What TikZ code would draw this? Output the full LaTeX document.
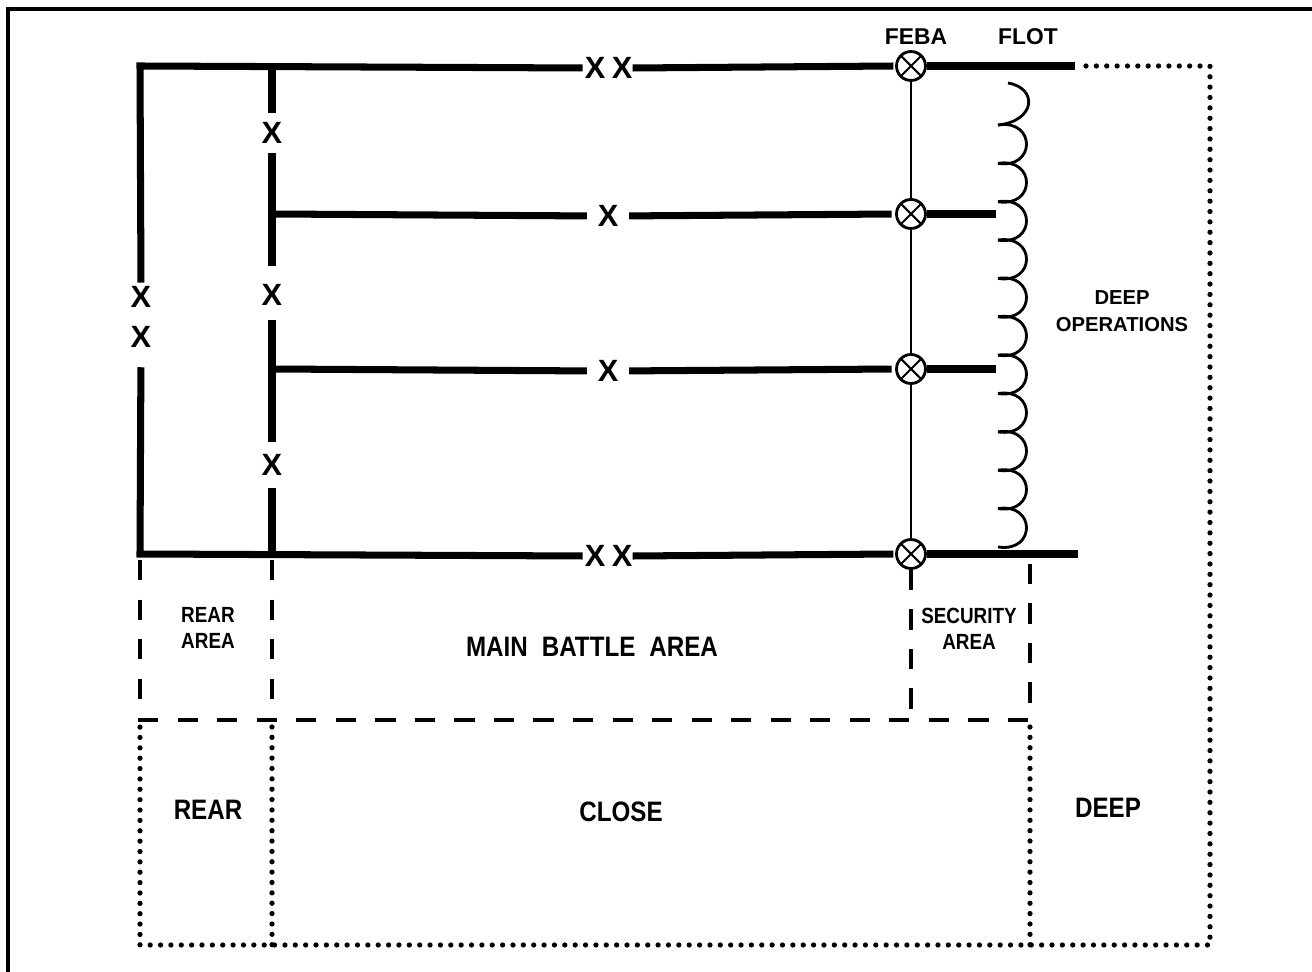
\documentclass[tikz,border=0pt]{standalone}
\usepackage{fontspec}
\setmainfont{Liberation Sans}
\newfontfamily\narrowsans{Liberation Sans}[FakeStretch=0.86]
\usetikzlibrary{calc}

\begin{document}
\begin{tikzpicture}[
  x=0.02cm, y=-0.02cm,
  boundary/.style={line width=4pt},
  febaline/.style={line width=1.1pt},
  flotline/.style={line width=1.6pt},
  zoneline/.style={line width=2pt, dash pattern=on 11.5pt off 11pt},
  sectorline/.style={line width=3pt, line cap=round, dash pattern=on 0pt off 5.9pt},
  xmark/.style={font=\fontsize{17.5}{17.5}\selectfont\bfseries, inner sep=0pt},
  febamark/.style={circle, draw, line width=1.6pt, minimum size=16.5pt, inner sep=0pt,
    path picture={
      \draw[line width=1.2pt] (path picture bounding box.north west) -- (path picture bounding box.south east)
                              (path picture bounding box.north east) -- (path picture bounding box.south west);}},
  linelabel/.style={font=\fontsize{13}{15}\selectfont\bfseries, align=center, inner sep=0pt},
  arealabel/.style={font=\narrowsans\fontsize{12.5}{14.8}\selectfont\bfseries, align=center, inner sep=0pt},
  ziplabel/.style={font=\narrowsans\fontsize{16}{18}\selectfont\bfseries, inner sep=0pt}
]
\useasboundingbox (0,0) rectangle (1312,972);
\draw[line width=2pt] (8,972) -- (8,9) -- (1312,9);

% corners of the sector
\coordinate (nw) at (140,66);
\coordinate (sw) at (140,554);
\coordinate (bn) at (272,66);
\coordinate (bs) at (272,554);
\coordinate (b2) at (272,214);
\coordinate (b3) at (272,369);
\coordinate (flotn) at (1075,66);
\coordinate (flots) at (1078,554);
\coordinate (fwd2) at (996,214);
\coordinate (fwd3) at (996,369);

% FEBA trace
\node[febamark] (f1) at (911,66) {};
\node[febamark] (f2) at (911,214) {};
\node[febamark] (f3) at (911,369) {};
\node[febamark] (f4) at (911,554) {};

% boundary symbols
\node[xmark] (xl1) at (141,297) {X};
\node[xmark] (xl2) at (141,337) {X};
\node[xmark] (xb1) at (272,133) {X};
\node[xmark] (xb2) at (272,295) {X};
\node[xmark] (xb3) at (272,465) {X};
\node[xmark] (xt1) at (595,68) {X};
\node[xmark] (xt2) at (622,68) {X};
\node[xmark] (xm2) at (608,216) {X};
\node[xmark] (xm3) at (608,371) {X};
\node[xmark] (xs1) at (595,556) {X};
\node[xmark] (xs2) at (622,556) {X};

% division boundaries
\draw[boundary, shorten <=2pt, shorten >=1pt] (xl1.north) -- (nw) -- (xt1.west);
\draw[boundary, shorten >=1pt] (xt2.east) -- (f1.west);
\draw[boundary] (f1.east) -- (flotn);
\draw[boundary, shorten <=11pt, shorten >=1pt] (xl2.south) -- (sw) -- (xs1.west);
\draw[boundary, shorten >=1pt] (xs2.east) -- (f4.west);
\draw[boundary] (f4.east) -- (flots);

% brigade boundaries
\draw[boundary, shorten >=5pt] (bn) -- (xb1.north);
\draw[boundary, shorten <=5pt, shorten >=10pt] (xb1.south) -- (xb2.north);
\draw[boundary, shorten <=8pt, shorten >=7pt] (xb2.south) -- (xb3.north);
\draw[boundary, shorten <=7pt] (xb3.south) -- (bs);
\draw[boundary, shorten >=6pt] (b2) -- (xm2.west);
\draw[boundary, shorten <=6pt, shorten >=2pt] (xm2.east) -- (f2.west);
\draw[boundary] (f2.east) -- (fwd2);
\draw[boundary, shorten >=6pt] (b3) -- (xm3.west);
\draw[boundary, shorten <=6pt, shorten >=2pt] (xm3.east) -- (f3.west);
\draw[boundary] (f3.east) -- (fwd3);

\draw[febaline] (f1) -- (f2) (f2) -- (f3) (f3) -- (f4);

% FLOT
\draw[flotline] (1008,83) .. controls (1038,88) and (1036,121) .. (998,125);
\foreach \k in {0,...,10}
  \draw[flotline] (998,{125+38.36*\k}) .. controls (1036,{119+38.36*\k}) and (1036,{169.36+38.36*\k}) .. (998,{163.36+38.36*\k});

% areas
\draw[zoneline] (140,560) -- (140,720) -- (1030,720) -- (1030,560);
\draw[zoneline] (272,560) -- (272,720);
\draw[zoneline] (f4.south) -- (911,716);
\draw[sectorline] (1086,66) -- (1210,66) -- (1210,945) -- (140,945) -- (140,727);
\draw[sectorline] (272,727) -- (272,945);
\draw[sectorline] (1030,727) -- (1030,945);

% labels
\node[linelabel] (febatxt) at (916,37) {FEBA};
\node[linelabel] (flottxt) at (1028,37) {FLOT};
\node[linelabel, font=\fontsize{11.5}{15.4}\selectfont\bfseries] (deepops) at (1122,311) {DEEP\\OPERATIONS};
\node[arealabel] (reararea) at (208,628) {REAR\\AREA};
\node[arealabel] (secarea) at (969,629) {SECURITY\\AREA};
\node[ziplabel] (mba) at (592,647) {MAIN\hspace{0.5em}BATTLE\hspace{0.5em}AREA};
\node[ziplabel] (rear) at (208,810) {REAR};
\node[ziplabel] (close) at (621,812) {CLOSE};
\node[ziplabel] (deep) at (1108,808) {DEEP};
\end{tikzpicture}
\end{document}
